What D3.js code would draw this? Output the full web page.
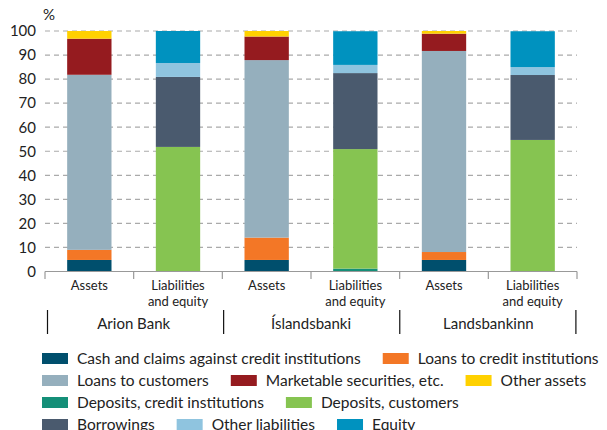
<!DOCTYPE html>
<html>
<head>
<meta charset="utf-8">
<script src="https://cdn.jsdelivr.net/npm/d3@7"></script>
<style>
  html, body { margin: 0; padding: 0; background: #fff; }
  svg { display: block; font-family: Lato, "Open Sans", sans-serif; }
</style>
</head>
<body>
<svg id="chart" width="607" height="430"></svg>
<script>
// ---- data ----
const bars = ["Arion Assets", "Arion Liab", "Isl Assets", "Isl Liab", "Lands Assets", "Lands Liab"];
const barLabels = ["Assets", "Liabilities\nand equity", "Assets", "Liabilities\nand equity", "Assets", "Liabilities\nand equity"];
const groups = ["Arion Bank", "Íslandsbanki", "Landsbankinn"];
const seriesNames = [
  "Cash and claims against credit institutions",
  "Loans to credit institutions",
  "Loans to customers",
  "Marketable securities, etc.",
  "Other assets",
  "Deposits, credit institutions",
  "Deposits, customers",
  "Borrowings",
  "Other liabilities",
  "Equity"
];
const seriesColors = ["#004f6d", "#f37726", "#95afbd", "#951b1f", "#ffd100", "#148f78", "#86c451", "#4a5a6e", "#8fc4df", "#0092bf"];
// values per bar (same order as bars)
const cash          = [4.8, 0, 4.8, 0, 4.8, 0];
const loansCI       = [4.2, 0, 9.3, 0, 3.3, 0];
const loansCust     = [72.8, 0, 73.8, 0, 83.6, 0];
const marketable    = [15.0, 0, 9.8, 0, 7.2, 0];
const otherAssets   = [3.2, 0, 2.3, 0, 1.1, 0];
const depositsCI    = [0, 0, 0, 1.2, 0, 0];
const depositsCust  = [0, 51.8, 0, 49.7, 0, 54.7];
const borrowings    = [0, 29.1, 0, 31.6, 0, 27.0];
const otherLiab     = [0, 5.8, 0, 3.4, 0, 3.3];
const equity        = [0, 13.3, 0, 14.0, 0, 14.9];
const yTicks = [0, 10, 20, 30, 40, 50, 60, 70, 80, 90, 100];
const legendRows = [[0, 1], [2, 3, 4], [5, 6], [7, 8, 9]];

const seriesValues = [cash, loansCI, loansCust, marketable, otherAssets, depositsCI, depositsCust, borrowings, otherLiab, equity];
const table = bars.map((b, i) => {
  const row = { bar: b };
  seriesNames.forEach((s, j) => row[s] = seriesValues[j][i]);
  return row;
});

// ---- layout ----
const svg = d3.select("#chart");
const textColor = "#222";
const x = d3.scaleBand().domain(bars).range([45, 577]).paddingInner(0.5).paddingOuter(0.25);
const y = d3.scaleLinear().domain([0, 100]).range([271.5, 31]);

// gridlines
svg.append("g").selectAll("line").data(yTicks.filter(t => t > 0)).join("line")
  .attr("x1", 45).attr("x2", 577)
  .attr("y1", d => y(d)).attr("y2", d => y(d))
  .attr("stroke", "#aaa").attr("stroke-width", 1.2).attr("stroke-dasharray", "5,4");

// y axis labels
const yAxis = svg.append("g").attr("transform", "translate(45,0)")
  .call(d3.axisLeft(y).tickValues(yTicks).tickSize(0).tickPadding(9));
yAxis.select(".domain").remove();
yAxis.selectAll("text").attr("font-size", 15).attr("fill", textColor).attr("font-family", "Lato, sans-serif");

svg.append("text").attr("x", 43).attr("y", 20).attr("font-size", 15).attr("fill", textColor).text("%");

// stacked bars
const stack = d3.stack().keys(seriesNames)(table);
svg.append("g").selectAll("g").data(stack).join("g")
  .attr("fill", (d, i) => seriesColors[i])
  .selectAll("rect").data(d => d).join("rect")
  .attr("x", d => x(d.data.bar))
  .attr("width", x.bandwidth())
  .attr("y", d => y(d[1]))
  .attr("height", d => y(d[0]) - y(d[1]));

// x axis line + ticks at band boundaries
const step = x.step();
const x0 = 45;
svg.append("line").attr("x1", x0).attr("x2", 577).attr("y1", 271.5).attr("y2", 271.5)
  .attr("stroke", "#999").attr("stroke-width", 1.2);
svg.append("g").selectAll("line").data(d3.range(bars.length + 1)).join("line")
  .attr("x1", i => x0 + i * step).attr("x2", i => x0 + i * step)
  .attr("y1", 271.5).attr("y2", 279)
  .attr("stroke", "#999").attr("stroke-width", 1.2);

// bar labels
const lbl = svg.append("g").selectAll("text").data(bars).join("text")
  .attr("text-anchor", "middle").attr("font-size", 13).attr("fill", textColor)
  .attr("transform", d => `translate(${x(d) + x.bandwidth() / 2},290)`);
lbl.each(function (d, i) {
  const lines = barLabels[i].split("\n");
  d3.select(this).selectAll("tspan").data(lines).join("tspan")
    .attr("x", 0).attr("dy", (l, k) => k === 0 ? 0 : 16).text(l => l);
});

// group labels and separators
const gStep = step * 2;
svg.append("g").selectAll("line").data(d3.range(groups.length + 1)).join("line")
  .attr("x1", i => x0 + 2.5 + i * (gStep - 1.2)).attr("x2", i => x0 + 2.5 + i * (gStep - 1.2))
  .attr("y1", 310).attr("y2", 334)
  .attr("stroke", "#111").attr("stroke-width", 1.2);
svg.append("g").selectAll("text").data(groups).join("text")
  .attr("x", (d, i) => x0 + gStep * i + gStep / 2)
  .attr("y", 329).attr("text-anchor", "middle").attr("font-size", 15).attr("fill", textColor)
  .text(d => d);

// legend
const legend = svg.append("g");
const rowY = [358.5, 380.5, 402.5, 424.5];
legendRows.forEach((row, r) => {
  let cx = 42;
  row.forEach(si => {
    const g = legend.append("g").attr("transform", `translate(${cx},${rowY[r]})`);
    g.append("rect").attr("x", 0).attr("y", -5.5).attr("width", 26).attr("height", 11).attr("fill", seriesColors[si]);
    const t = g.append("text").attr("x", 35).attr("y", 5.5).attr("font-size", 15.5).attr("fill", textColor).text(seriesNames[si]);
    cx += 35 + t.node().getComputedTextLength() + 22;
  });
});
</script>
</body>
</html>
